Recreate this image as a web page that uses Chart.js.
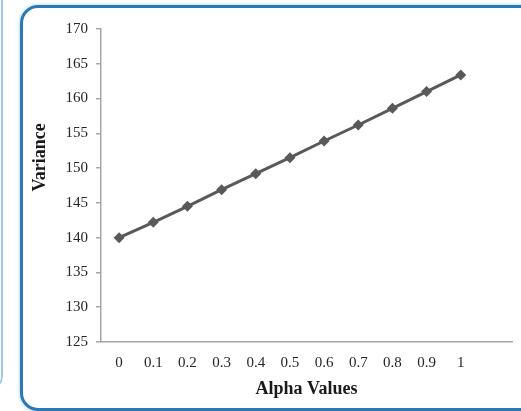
<!DOCTYPE html>
<html>
<head>
<meta charset="utf-8">
<script src="https://cdn.jsdelivr.net/npm/chart.js@4/dist/chart.umd.min.js"></script>
<style>
  html, body { margin: 0; padding: 0; background: #fff; }
  body { width: 521px; height: 411px; position: relative; overflow: hidden; }
  .strip { position: absolute; left: -20px; top: -20px; width: 21px; height: 410px;
           border-right: 2px solid #9cc8e6; border-radius: 0 0 14px 0; }
  .frame { position: absolute; left: 20px; top: 5px; width: 540px; height: 400px;
           border: 3px solid #2c78b2; border-radius: 18px;
           box-shadow: 0 0 3px 1px #bfe0f5; }
  canvas { position: absolute; left: 0; top: 0; }
</style>
</head>
<body>
<div class="strip"></div>
<div class="frame"></div>
<canvas id="chart" width="521" height="411"></canvas>
<script>
// valores
const alphaValues = [0, 0.1, 0.2, 0.3, 0.4, 0.5, 0.6, 0.7, 0.8, 0.9, 1];
const alphaLabels = ['0', '0.1', '0.2', '0.3', '0.4', '0.5', '0.6', '0.7', '0.8', '0.9', '1'];
const varianceValues = [140.0, 142.2, 144.5, 146.9, 149.2, 151.5, 153.9, 156.2, 158.6, 161.0, 163.4];
const yTicks = [125, 130, 135, 140, 145, 150, 155, 160, 165, 170];

const xTitle = 'Alpha Values';
const yTitle = 'Variance';

const serif = '"Liberation Serif", "DejaVu Serif", serif';
const lineColor = '#595959';
const axisColor = '#a6a6a6';
const tickColor = '#262626';

// título do eixo Y um pouco acima do centro, como no original
const yTitlePlugin = {
  id: 'yTitle',
  afterDraw(chart) {
    const { ctx, chartArea } = chart;
    ctx.save();
    ctx.font = 'bold 18px ' + serif;
    ctx.fillStyle = '#1a1a1a';
    ctx.textAlign = 'center';
    ctx.textBaseline = 'middle';
    ctx.translate(40, chartArea.top + (chartArea.bottom - chartArea.top) * 0.41);
    ctx.rotate(-Math.PI / 2);
    ctx.fillText(yTitle, 0, 0);
    ctx.restore();
  }
};

new Chart(document.getElementById('chart'), {
  type: 'line',
  data: {
    datasets: [{
      data: alphaValues.map((a, i) => ({ x: a, y: varianceValues[i] })),
      borderColor: lineColor,
      backgroundColor: lineColor,
      borderWidth: 3,
      pointStyle: 'rectRot',
      pointRadius: 5.5,
      pointBorderWidth: 0,
      tension: 0
    }]
  },
  options: {
    responsive: false,
    animation: false,
    layout: { padding: { left: 20, top: 29, right: 9, bottom: 9 } },
    plugins: {
      legend: { display: false },
      tooltip: { enabled: false }
    },
    scales: {
      x: {
        type: 'linear',
        min: -0.053,
        max: 1.15,
        afterBuildTicks: (scale) => { scale.ticks = alphaValues.map(v => ({ value: v })); },
        afterFit: (scale) => { scale.height = 60; },
        grid: { display: false },
        border: { color: axisColor, width: 1.5 },
        ticks: {
          padding: 4,
          maxRotation: 0,
          autoSkip: false,
          color: tickColor,
          font: { family: serif, size: 15 },
          callback: (v, i) => alphaLabels[i]
        },
        title: {
          display: true,
          text: xTitle,
          color: '#1a1a1a',
          padding: { top: 0, bottom: 2 },
          font: { family: serif, size: 18, weight: 'bold' }
        }
      },
      y: {
        min: 125,
        max: 170,
        afterBuildTicks: (scale) => { scale.ticks = yTicks.map(v => ({ value: v })); },
        afterFit: (scale) => { scale.width = 81; },
        grid: { display: true, drawOnChartArea: false, drawTicks: true, tickLength: 5, color: axisColor, lineWidth: 1.5 },
        border: { color: axisColor, width: 1.5 },
        ticks: {
          padding: 8,
          color: tickColor,
          font: { family: serif, size: 15 }
        }
      }
    }
  },
  plugins: [yTitlePlugin]
});
</script>
</body>
</html>
